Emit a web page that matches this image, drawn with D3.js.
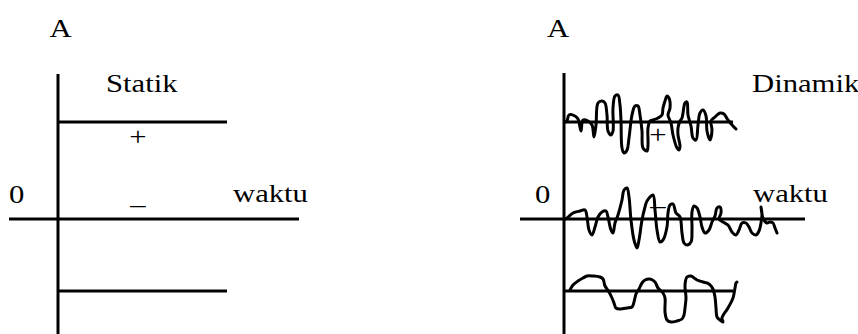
<!DOCTYPE html>
<html>
<head>
<meta charset="utf-8">
<script src="https://cdn.jsdelivr.net/npm/d3@7"></script>
<style>
  body { margin: 0; background: #fff; }
  svg { display: block; background: #fff; }
  text { font-family: "Liberation Serif", "Times New Roman", serif; font-size: 26px; fill: #000; }
</style>
</head>
<body>
<div id="chart"></div>
<script>
// amplitude levels of the static signal (+ and _)
var levels = [97, -72];
var levelSpan = [0, 169];

// dynamic signal, [waktu, offset from its level]
var upperWave = [[1,0],[3,1],[5,7],[11,6],[14,3],[17,-9],[19,2],[24,1],[28,-3],[30,-15],[32,-3],[34,19],
  [38,21],[41,19],[43,7],[44,-9],[47,-13],[49,-9],[49,14],[51,26],[54,27],[56,17],[57,1],[58,-26],
  [60,-31],[63,-28],[65,-16],[68,7],[71,16],[74,16],[76,7],[78,-9],[79,-26],[83,-29],[84,-23],[84,-6],
  [86,1],[89,2],[94,4],[98,7],[99,14],[101,21],[103,26],[105,24],[106,14],[104,7],[107,-1],[109,-13],
  [113,-26],[115,-28],[116,-24],[114,-13],[114,-6],[116,1],[118,4],[121,19],[123,20],[124,7],[127,-4],
  [129,-16],[132,-18],[134,-3],[136,9],[139,12],[142,6],[143,-9],[146,-18],[148,-8],[147,1],[151,5],
  [156,9],[160,8],[164,2],[169,-4],[172,-7]];

var zeroWave = [[1,0],[3,1],[9,6],[16,8],[21,9],[23,2],[25,-11],[28,-16],[31,-8],[34,2],[38,7],[42,8],
  [44,2],[47,-11],[49,-14],[51,-4],[54,4],[58,19],[60,29],[63,31],[65,22],[67,-1],[70,-21],[73,-29],
  [75,-21],[78,-1],[81,12],[83,18],[89,24],[91,9],[93,-11],[96,-23],[99,-21],[103,-8],[104,6],[106,14],
  [109,15],[112,6],[116,2],[118,-14],[120,-24],[123,-26],[127,-23],[128,-11],[128,7],[130,13],[133,11],
  [136,2],[138,-8],[141,-14],[145,-11],[148,-3],[151,3],[153,11],[156,12],[157,6],[155,0],[159,-3],
  [164,-6],[168,-13],[172,-16],[175,-11],[178,-4],[182,-4],[185,-8],[188,-14],[192,-16],[195,-12],
  [197,-4],[198,5],[197,12],[199,1],[203,-4],[206,-3],[209,-4],[211,-9],[213,-14]];

var lowerWave = [[6,1],[9,6],[14,10],[19,13],[23,15],[29,15],[36,14],[39,12],[41,5],[45,-1],[48,-7],
  [50,-12],[52,-17],[56,-18],[63,-17],[68,-16],[70,-11],[72,-3],[75,2],[78,8],[81,11],[86,12],[91,9],
  [94,3],[99,-2],[101,-7],[101,-21],[103,-29],[107,-31],[113,-30],[118,-28],[120,-24],[121,-17],
  [122,-7],[121,6],[123,14],[127,15],[133,11],[139,9],[145,7],[149,2],[151,-6],[152,-17],[153,-26],
  [156,-29],[159,-31],[158,-27],[164,-17],[169,-7],[171,3],[172,8],[173,9]];

var dynamicWaves = [
  {level: levels[0], points: upperWave},
  {level: 0, points: zeroWave},
  {level: levels[1], points: lowerWave}
];

function panel() {
  var _chart = {};
  var _svg, _x, _y,
    _originX = 58,
    _axisStart = -49,
    _axisTop = 145,
    _title = "Statik",
    _titleX = 48,
    _signX = 80,
    _mode = "static";

  _chart.render = function (svg) {
    _svg = svg.append("g");
    _x = d3.scaleLinear().domain([0, 240]).range([_originX, _originX + 240]);
    _y = d3.scaleLinear().domain([-115, 145]).range([334, 74]);

    renderAxes();
    if (_mode == "static") renderLevels(); else renderWaves();
    renderLabels();
  };

  function renderAxes() {
    _svg.append("line")
      .attr("x1", _x(0)).attr("x2", _x(0))
      .attr("y1", _y(_axisTop)).attr("y2", _y(-115))
      .attr("stroke", "#000").attr("stroke-width", 3);

    _svg.append("line")
      .attr("x1", _x(_axisStart)).attr("x2", _x(241))
      .attr("y1", _y(0)).attr("y2", _y(0))
      .attr("stroke", "#000").attr("stroke-width", 3);
  }

  function renderLevels() {
    _svg.selectAll("line.level")
      .data(levels)
      .enter().append("line")
      .attr("class", "level")
      .attr("x1", _x(levelSpan[0])).attr("x2", _x(levelSpan[1]))
      .attr("y1", function (d) { return _y(d); })
      .attr("y2", function (d) { return _y(d); })
      .attr("stroke", "#000").attr("stroke-width", 3);
  }

  function renderWaves() {
    renderLevels();

    var line = d3.line()
      .curve(d3.curveCatmullRom.alpha(0.5))
      .x(function (d) { return _x(d[0]); });

    _svg.selectAll("path.wave")
      .data(dynamicWaves)
      .enter().append("path")
      .attr("class", "wave")
      .attr("d", function (w) {
        return line.y(function (d) { return _y(w.level + d[1]); })(w.points);
      })
      .attr("fill", "none")
      .attr("stroke", "#000")
      .attr("stroke-width", 3)
      .attr("stroke-linejoin", "round")
      .attr("stroke-linecap", "round");
  }

  function label(txt, x, y, anchor) {
    _svg.append("text")
      .attr("text-anchor", anchor || "start")
      .attr("transform", "translate(" + x + "," + y + ") scale(1.18,1)")
      .text(txt);
  }

  function renderLabels() {
    var ox = _x(0);
    label("A", ox + (_mode == "static" ? 2.5 : -6), 36.5, "middle");
    label(_title, ox + _titleX, 92);
    label("+", _x(_signX), _mode == "static" ? 145 : 143, "middle");
    label("_", _x(_signX), _mode == "static" ? 204 : 205, "middle");
    label("0", ox - (_mode == "static" ? 49 : 29), 202.5);
    label("waktu", ox + (_mode == "static" ? 175 : 189), 202);
  }

  _chart.originX = function (v) { _originX = v; return _chart; };
  _chart.axisStart = function (v) { _axisStart = v; return _chart; };
  _chart.axisTop = function (v) { _axisTop = v; return _chart; };
  _chart.title = function (t, x) { _title = t; _titleX = x; return _chart; };
  _chart.signX = function (v) { _signX = v; return _chart; };
  _chart.mode = function (m) { _mode = m; return _chart; };

  return _chart;
}

var svg = d3.select("#chart").append("svg")
  .attr("width", 858)
  .attr("height", 334);

panel().render(svg);

panel()
  .originX(564)
  .axisStart(-44)
  .axisTop(146)
  .title("Dinamik", 188)
  .signX(94)
  .mode("dynamic")
  .render(svg);
</script>
</body>
</html>
